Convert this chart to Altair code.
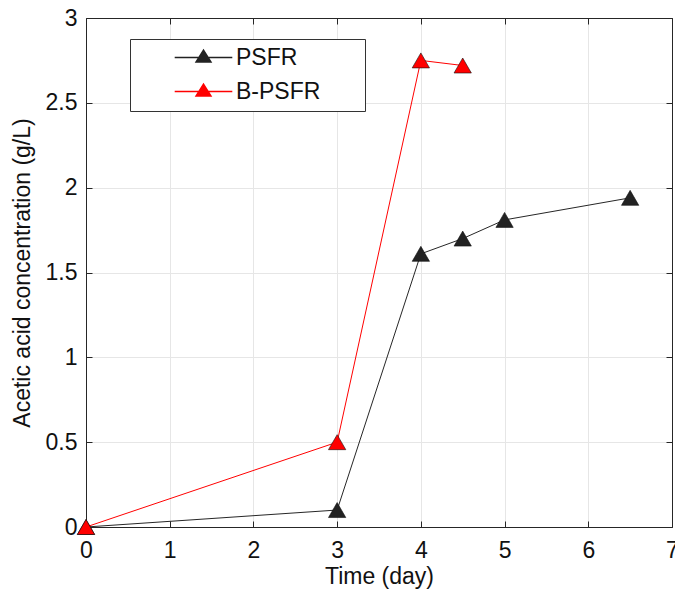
import altair as alt
import pandas as pd

# data
psfr_time = [0, 3, 4, 4.5, 5, 6.5]
psfr_conc = [0.0, 0.10, 1.61, 1.70, 1.81, 1.94]
bpsfr_time = [0, 3, 4, 4.5]
bpsfr_conc = [0.0, 0.50, 2.75, 2.72]
series_names = ["PSFR", "B-PSFR"]
line_colors = ["#262626", "#ff0000"]
marker_colors = ["#222222", "#ff0000"]
x_ticks = [0, 1, 2, 3, 4, 5, 6, 7]
y_ticks = [0, 0.5, 1, 1.5, 2, 2.5, 3]

rows = []
for t, c in zip(psfr_time, psfr_conc):
    rows.append({"time": t, "conc": c, "series": "PSFR", "order": len(rows)})
for t, c in zip(bpsfr_time, bpsfr_conc):
    rows.append({"time": t, "conc": c, "series": "B-PSFR", "order": len(rows)})
df = pd.DataFrame(rows)

W, H = 586, 509
FONT = "Liberation Sans"
TXT = "#262626"
FS = 23

xs = alt.Scale(domain=[0, 7], nice=False, zero=False)
ys = alt.Scale(domain=[0, 3], nice=False, zero=False)

# legend symbol: thin line + triangle (unit path, scaled by sqrt(size)/2 = 8 px);
# the last zero-length sub-path only widens the legend box to the right
SYM = ("M-3.6,-0.08L3.6,-0.08L3.6,0.08L-3.6,0.08Z "
       "M0,-1.1L1.1,0.65L-1.1,0.65Z "
       "M19.2,0L19.2,0")

base = alt.Chart(df)

main_x = alt.X("time:Q", scale=xs,
               axis=alt.Axis(orient="bottom", values=x_ticks, title="Time (day)",
                             ticks=False, labelPadding=12, titlePadding=3,
                             grid=True, gridColor="#e6e6e6", gridWidth=1,
                             domainColor=TXT, domainWidth=1, labelFlush=False))
main_y = alt.Y("conc:Q", scale=ys,
               axis=alt.Axis(orient="left", values=y_ticks, format="~g",
                             title="Acetic acid concentration (g/L)",
                             ticks=False, labelPadding=9, titlePadding=11,
                             grid=True, gridColor="#e6e6e6", gridWidth=1,
                             domainColor=TXT, domainWidth=1, labelFlush=False))

line_psfr = base.transform_filter(alt.datum.series == series_names[0]).mark_line(
    strokeWidth=1, color=line_colors[0]
).encode(x=main_x, y=main_y, order="order:Q")

line_bpsfr = base.transform_filter(alt.datum.series == series_names[1]).mark_line(
    strokeWidth=1, color=line_colors[1]
).encode(
    x=alt.X("time:Q", scale=xs, axis=None),
    y=alt.Y("conc:Q", scale=ys, axis=None),
    order="order:Q",
)

frame = base.mark_point(opacity=0).encode(
    x=alt.X("time:Q", scale=xs,
            axis=alt.Axis(orient="bottom", offset=-H, values=x_ticks, title=None,
                          labels=False, domain=True, domainColor=TXT, grid=False,
                          ticks=True, tickSize=6, tickColor=TXT)),
    y=alt.Y("conc:Q", scale=ys,
            axis=alt.Axis(orient="left", offset=-W, values=y_ticks, title=None,
                          labels=False, domain=True, domainColor=TXT, grid=False,
                          ticks=True, tickSize=6, tickColor=TXT)),
)

points = base.mark_point(filled=True, size=300, shape="triangle-up", opacity=1,
                         stroke="#111111", strokeWidth=0.6).encode(
    x=alt.X("time:Q", scale=xs,
            axis=alt.Axis(orient="top", offset=-H, values=x_ticks, title=None,
                          labels=False, domain=False, grid=False,
                          ticks=True, tickSize=6, tickColor=TXT)),
    y=alt.Y("conc:Q", scale=ys,
            axis=alt.Axis(orient="right", offset=-W, values=y_ticks, title=None,
                          labels=False, domain=False, grid=False,
                          ticks=True, tickSize=6, tickColor=TXT)),
    fill=alt.Fill("series:N", scale=alt.Scale(domain=series_names, range=marker_colors),
                  legend=alt.Legend(title=None, orient="none", legendX=44, legendY=21,
                                    symbolType=SYM, symbolSize=256, symbolOffset=55,
                                    symbolStrokeWidth=0, labelOffset=21,
                                    labelFont=FONT, labelFontSize=FS, labelColor="#111111",
                                    rowPadding=10, padding=7,
                                    strokeColor="#333333", fillColor="white",
                                    cornerRadius=0)),
)

chart = alt.layer(line_psfr, line_bpsfr, frame, points).resolve_axis(
    x="independent", y="independent"
).properties(
    width=W, height=H,
    autosize=alt.AutoSizeParams(type="none"),
    padding={"left": 86, "top": 18, "right": 3, "bottom": 66},
    background="white",
).configure_view(stroke=None).configure_axis(
    labelFont=FONT, labelFontSize=FS, labelColor="#111111",
    titleFont=FONT, titleFontSize=FS, titleColor="#111111", titleFontWeight="normal",
)

chart.save("out.html", embed_options={"renderer": "svg", "actions": False})
